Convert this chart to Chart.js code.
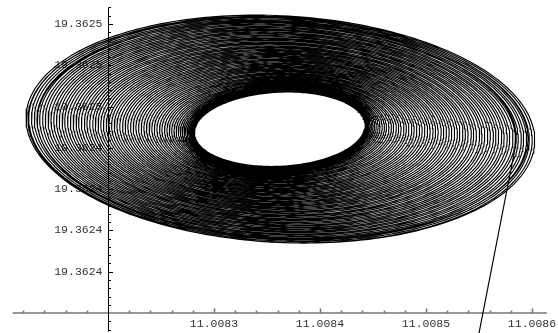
<!DOCTYPE html>
<html lang="en">

<head>
    <meta charset="UTF-8">
    <script src="https://cdn.jsdelivr.net/npm/chart.js"></script>
    <title>Orbit</title>
    <style>
        body { margin: 0; background: #fff; }
        .grafico { width: 558px; height: 333px; position: relative; }
    </style>
</head>

<body>
    <div class="grafico">
        <canvas id="graficoOrbita"></canvas>
    </div>

    <script>
        // tick values and labels as printed on the axes
        const xTickValues = [11.0083, 11.0084, 11.0085, 11.0086];
        const xTickLabels = ['11.0083', '11.0084', '11.0085', '11.0086'];
        const yTickValues = [19.36238, 19.3624, 19.36242, 19.36244, 19.36246, 19.36248, 19.3625];
        const yTickLabels = ['19.3624', '19.3624', '19.3624', '19.3624', '19.3625', '19.3625', '19.3625'];
        const xMinorStep = 0.00002;
        const yMinorStep = 0.000004;
        const axisCross = [11.0082, 19.36236];
        const xAxisRange = [11.008110, 11.008614];
        const yAxisRange = [19.362351, 19.362508];
        const xRange = [11.00809811, 11.00862453];
        const yRange = [19.36235032, 19.36251163];

        // trajectory: start point, then loops around a common centre
        const startPoint = [11.008548, 19.362345];
        const orbitCenter = [11.008362, 19.362449];
        const innerAxes = [0.0000802, 0.0000179];
        const outerAxes = [0.0002406, 0.0000552];
        const innerShear = 0.0000017;
        const outerShear = -0.0000053;
        const startAngle = -5;
        // size of each loop, 0 = innermost, 1 = outermost
        const turnLevels = [0.89, 0.96, 1.00, 0.985, 0.968, 0.952, 0.935, 0.921, 0.903, 0.886,
            0.872, 0.853, 0.838, 0.82, 0.806, 0.788, 0.772, 0.757, 0.739, 0.724,
            0.706, 0.69, 0.676, 0.657, 0.641, 0.627, 0.608, 0.592, 0.578, 0.56,
            0.545, 0.529, 0.512, 0.497, 0.481, 0.465, 0.45, 0.432, 0.417, 0.402,
            0.385, 0.37, 0.354, 0.338, 0.323, 0.307, 0.291, 0.277, 0.26, 0.245,
            0.231, 0.214, 0.2, 0.186, 0.17, 0.157, 0.143, 0.128, 0.116, 0.103,
            0.09, 0.079, 0.068, 0.058, 0.049, 0.04, 0.032, 0.025, 0.019, 0.014,
            0.01, 0.006, 0.003, 0.0];

        function montarOrbita() {
            const pontos = [{ x: startPoint[0], y: startPoint[1] }];
            const passos = 240;
            const t0 = startAngle * Math.PI / 180;
            for (let i = 0; i < turnLevels.length - 1; i++) {
                for (let j = 0; j <= passos; j++) {
                    if (i > 0 && j === 0) continue;
                    const f = j / passos;
                    const n = turnLevels[i] + (turnLevels[i + 1] - turnLevels[i]) * f;
                    const a = innerAxes[0] + (outerAxes[0] - innerAxes[0]) * n;
                    const b = innerAxes[1] + (outerAxes[1] - innerAxes[1]) * n;
                    const s = innerShear + (outerShear - innerShear) * n;
                    const t = t0 + 2 * Math.PI * (i + f);
                    pontos.push({
                        x: orbitCenter[0] + a * Math.cos(t),
                        y: orbitCenter[1] + b * Math.sin(t) + s * Math.cos(t)
                    });
                }
            }
            return pontos;
        }

        const eixos = {
            id: 'eixos',
            beforeDatasetsDraw(chart) {
                const { ctx, scales: { x, y } } = chart;
                const x0 = Math.round(x.getPixelForValue(axisCross[0])) + 0.5;
                const y0 = Math.round(y.getPixelForValue(axisCross[1]));
                ctx.save();

                // x axis (grey) with upward ticks
                ctx.strokeStyle = '#777';
                ctx.lineWidth = 1.6;
                ctx.beginPath();
                ctx.moveTo(x.getPixelForValue(xAxisRange[0]), y0);
                ctx.lineTo(x.getPixelForValue(xAxisRange[1]), y0);
                let k0 = Math.ceil((xAxisRange[0] - axisCross[0]) / xMinorStep - 1e-6);
                let k1 = Math.floor((xAxisRange[1] - axisCross[0]) / xMinorStep + 1e-6);
                for (let k = k0; k <= k1; k++) {
                    if (k === 0) continue;
                    const px = Math.round(x.getPixelForValue(axisCross[0] + k * xMinorStep)) + 0.5;
                    const len = k % 5 === 0 ? 4.5 : 2.5;
                    ctx.moveTo(px, y0);
                    ctx.lineTo(px, y0 - len);
                }
                ctx.stroke();

                // y axis (black) with ticks to the right
                ctx.strokeStyle = '#000';
                ctx.lineWidth = 1;
                ctx.beginPath();
                ctx.moveTo(x0, y.getPixelForValue(yAxisRange[1]));
                ctx.lineTo(x0, y.getPixelForValue(yAxisRange[0]));
                k0 = Math.ceil((yAxisRange[0] - axisCross[1]) / yMinorStep - 1e-6);
                k1 = Math.floor((yAxisRange[1] - axisCross[1]) / yMinorStep + 1e-6);
                for (let k = k0; k <= k1; k++) {
                    if (k === 0) continue;
                    const py = Math.round(y.getPixelForValue(axisCross[1] + k * yMinorStep)) + 0.5;
                    const len = k % 5 === 0 ? 4.5 : 2.5;
                    ctx.moveTo(x0, py);
                    ctx.lineTo(x0 + len, py);
                }
                ctx.stroke();

                // labels
                ctx.fillStyle = '#333';
                ctx.font = '11.5px "Liberation Mono", "DejaVu Sans Mono", monospace';
                ctx.textAlign = 'center';
                ctx.textBaseline = 'middle';
                xTickValues.forEach((v, i) => {
                    ctx.fillText(xTickLabels[i], x.getPixelForValue(v), y0 + 11);
                });
                ctx.textAlign = 'right';
                yTickValues.forEach((v, i) => {
                    ctx.fillText(yTickLabels[i], x0 - 6, y.getPixelForValue(v));
                });
                ctx.restore();
            }
        };

        const ctxOrbita = document.getElementById('graficoOrbita').getContext('2d');

        new Chart(ctxOrbita, {
            type: 'scatter',
            data: {
                datasets: [{
                    data: montarOrbita(),
                    showLine: true,
                    borderColor: '#000',
                    borderWidth: 1.15,
                    pointRadius: 0,
                    tension: 0
                }]
            },
            options: {
                responsive: true,
                maintainAspectRatio: false,
                animation: false,
                events: [],
                layout: { padding: 0 },
                scales: {
                    x: { type: 'linear', min: xRange[0], max: xRange[1], display: false },
                    y: { type: 'linear', min: yRange[0], max: yRange[1], display: false }
                },
                plugins: {
                    legend: { display: false },
                    tooltip: { enabled: false }
                }
            },
            plugins: [eixos]
        });
    </script>
</body>

</html>
